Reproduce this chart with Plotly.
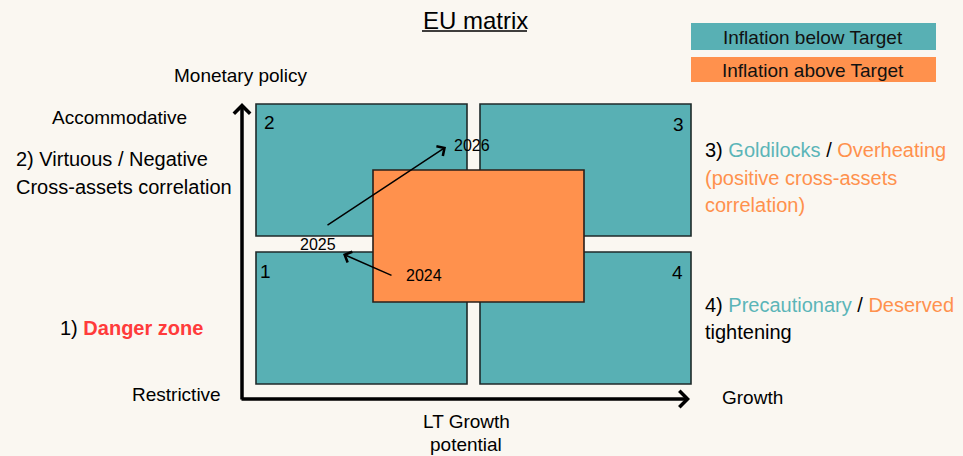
import plotly.graph_objects as go

# Canvas units: one unit per pixel, origin at top-left
W, H = 963, 456
BG = "#FAF7F1"
TEAL = "#58B0B4"
ORANGE = "#FF914D"
TEAL_TXT = "#5BB5B8"
ORANGE_TXT = "#FF914D"
FONT = "Liberation Sans, Arial, sans-serif"

# Quadrant boxes
quad_names = ["2", "3", "1", "4"]
quad_x0 = [256, 480, 256, 480]
quad_x1 = [467, 691, 467, 691]
quad_y0 = [104, 104, 252, 252]
quad_y1 = [236, 236, 384, 384]
quad_label_x = [269, 678, 265, 677]
quad_label_y = [122, 124, 271, 272]

# Central inflation-above-target block
infl_box = (373, 170, 584, 302)

# Year trajectory: start/end of each move and label positions
years = ["2024", "2025", "2026"]
year_lbl_x = [424, 318, 472]
year_lbl_y = [275, 244, 145]
move_from_x = [393, 326]
move_from_y = [276, 226]
move_to_x = [343, 446]
move_to_y = [254, 147]

# Axes of the matrix
axis_origin = (242, 399)
axis_x_end = 690
axis_y_end = 103

shapes = []
for x0, y0, x1, y1 in zip(quad_x0, quad_y0, quad_x1, quad_y1):
    shapes.append(dict(type="rect", x0=x0, y0=y0, x1=x1, y1=y1, xref="x", yref="y",
                       fillcolor=TEAL, line=dict(color="#1f2a2a", width=1.6)))
shapes.append(dict(type="rect", x0=infl_box[0], y0=infl_box[1], x1=infl_box[2], y1=infl_box[3],
                   xref="x", yref="y", fillcolor=ORANGE, line=dict(color="#2a1f1a", width=1.6)))
# Legend swatches
shapes.append(dict(type="rect", x0=691, y0=23, x1=936, y1=50, xref="x", yref="y",
                   fillcolor=TEAL, line=dict(width=0)))
shapes.append(dict(type="rect", x0=691, y0=57, x1=936, y1=82, xref="x", yref="y",
                   fillcolor=ORANGE, line=dict(width=0)))
# Title underline
shapes.append(dict(type="line", x0=422, y0=31, x1=527, y1=31, xref="x", yref="y",
                   line=dict(color="black", width=1.5)))

ann = []


def txt(x, y, s, size=19, color="black", xanchor="center", **kw):
    ann.append(dict(x=x, y=y, xref="x", yref="y", text=s, showarrow=False,
                    xanchor=xanchor, yanchor="middle",
                    font=dict(family=FONT, size=size, color=color), **kw))


# Matrix axes drawn as arrows
ann.append(dict(x=axis_x_end, y=axis_origin[1], ax=axis_origin[0] - 2, ay=axis_origin[1],
                xref="x", yref="y", axref="x", ayref="y", text="", showarrow=True,
                arrowhead=4, arrowsize=0.9, arrowwidth=3.5, arrowcolor="black"))
ann.append(dict(x=axis_origin[0], y=axis_y_end, ax=axis_origin[0], ay=axis_origin[1] + 2,
                xref="x", yref="y", axref="x", ayref="y", text="", showarrow=True,
                arrowhead=4, arrowsize=0.9, arrowwidth=3.5, arrowcolor="black"))

# Year moves
for fx, fy, tx, ty in zip(move_from_x, move_from_y, move_to_x, move_to_y):
    ann.append(dict(x=tx, y=ty, ax=fx, ay=fy, xref="x", yref="y", axref="x", ayref="y",
                    text="", showarrow=True, arrowhead=4, arrowsize=1.5, arrowwidth=1.5,
                    arrowcolor="black"))
for s, x, y in zip(years, year_lbl_x, year_lbl_y):
    txt(x, y, s, size=16)

for s, x, y in zip(quad_names, quad_label_x, quad_label_y):
    txt(x, y, s, size=19)

# Title and legend text
txt(475, 20, "EU matrix", size=24)
txt(813, 37, "Inflation below Target", size=19, color="#111")
txt(813, 70, "Inflation above Target", size=19, color="#111")

# Axis captions
txt(241, 75, "Monetary policy")
txt(119, 117, "Accommodative")
txt(176, 394, "Restrictive")
txt(752, 397, "Growth")
txt(466, 421, "LT Growth")
txt(466, 444, "potential")

# Regime descriptions
txt(14, 159, "2) Virtuous / Negative", size=20, xanchor="left")
txt(14, 187, "Cross-assets correlation", size=20, xanchor="left")
txt(58, 328, "1) <b><span style='color:#FF3B3B'>Danger zone</span></b>", size=20, xanchor="left")
txt(703, 150, f"3) <span style='color:{TEAL_TXT}'>Goldilocks</span> / "
              f"<span style='color:{ORANGE_TXT}'>Overheating</span>", size=20, xanchor="left")
txt(703, 178, "(positive cross-assets", size=20, color=ORANGE_TXT, xanchor="left")
txt(703, 205, "correlation)", size=20, color=ORANGE_TXT, xanchor="left")
txt(703, 305, f"4) <span style='color:{TEAL_TXT}'>Precautionary</span> / "
              f"<span style='color:{ORANGE_TXT}'>Deserved</span>", size=20, xanchor="left")
txt(703, 332, "tightening", size=20, xanchor="left")

fig = go.Figure()
fig.update_layout(
    width=W, height=H, margin=dict(l=0, r=0, t=0, b=0),
    paper_bgcolor=BG, plot_bgcolor=BG, showlegend=False,
    xaxis=dict(range=[0, W], visible=False, fixedrange=True),
    yaxis=dict(range=[H, 0], visible=False, fixedrange=True),
    shapes=shapes, annotations=ann,
)
fig.write_html("out.html")
